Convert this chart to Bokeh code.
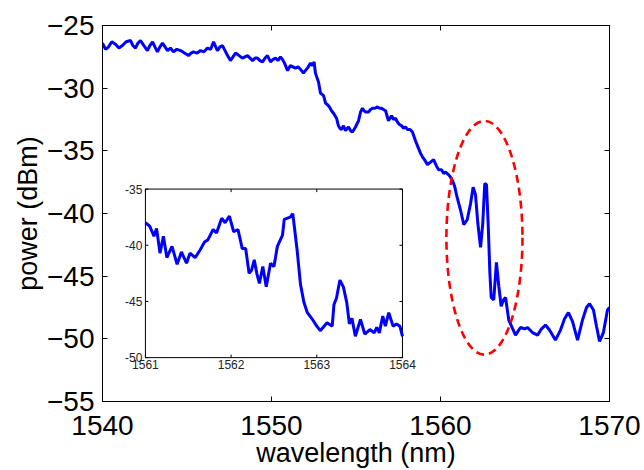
import numpy as np
from bokeh.plotting import figure
from bokeh.models import Range1d, LinearAxis, FixedTicker
from bokeh.core.properties import value
from bokeh.embed import file_html
from bokeh.resources import INLINE

# ---- data: measured spectrum (main trace) ----
# 1540 - 1561 nm
wl_a = [1540.00, 1540.18, 1540.36, 1540.55, 1540.77, 1540.97, 1541.18, 1541.40, 1541.66, 1541.80,
        1541.95, 1542.10, 1542.25, 1542.45, 1542.66, 1542.80, 1542.96, 1543.10, 1543.25, 1543.40,
        1543.55, 1543.70, 1543.85, 1544.02, 1544.20, 1544.40, 1544.62, 1544.85, 1545.09, 1545.24,
        1545.38, 1545.60, 1545.80, 1546.00, 1546.21, 1546.40, 1546.57, 1546.70, 1546.80, 1546.95,
        1547.10, 1547.25, 1547.40, 1547.57, 1547.72, 1547.87, 1548.08, 1548.28, 1548.43, 1548.58,
        1548.73, 1548.88, 1549.03, 1549.17, 1549.32, 1549.47, 1549.62, 1549.76, 1549.94, 1550.10,
        1550.24, 1550.38, 1550.53, 1550.65, 1550.77, 1550.95, 1551.12, 1551.27, 1551.42, 1551.57,
        1551.72, 1551.89, 1552.00, 1552.13, 1552.31, 1552.43, 1552.52, 1552.60, 1552.78, 1552.90,
        1553.08, 1553.20, 1553.30, 1553.43, 1553.55, 1553.67, 1553.85, 1553.96, 1554.05, 1554.14,
        1554.26, 1554.38, 1554.48, 1554.56, 1554.68, 1554.79, 1554.97, 1555.15, 1555.27, 1555.38,
        1555.48, 1555.56, 1555.74, 1555.86, 1555.98, 1556.12, 1556.27, 1556.40, 1556.51, 1556.62,
        1556.75, 1556.92, 1557.10, 1557.22, 1557.34, 1557.45, 1557.57, 1557.70, 1557.81, 1557.93,
        1558.05, 1558.20, 1558.34, 1558.52, 1558.70, 1558.82, 1558.94, 1559.05, 1559.23, 1559.41,
        1559.59, 1559.76, 1559.88, 1560.06, 1560.18, 1560.30, 1560.47, 1560.59, 1560.72, 1560.83]
pw_a = [-26.4, -26.9, -26.7, -26.3, -26.5, -26.8, -26.6, -26.3, -26.2, -26.6,
        -26.8, -26.4, -26.2, -26.6, -27.0, -26.6, -26.3, -26.7, -27.1, -26.7,
        -26.4, -26.7, -27.0, -26.8, -27.1, -26.9, -27.0, -27.2, -27.4, -27.2,
        -27.1, -27.2, -27.0, -27.1, -26.8, -26.9, -26.3, -26.7, -27.0, -26.7,
        -26.6, -27.0, -27.4, -27.8, -27.5, -27.2, -27.4, -27.6, -27.5, -27.4,
        -27.6, -27.8, -27.6, -27.6, -27.8, -27.9, -27.6, -27.4, -27.9, -27.7,
        -27.6, -27.8, -27.5, -27.7, -28.0, -28.6, -28.2, -28.3, -28.4, -28.3,
        -28.5, -28.8, -28.6, -28.4, -28.0, -28.2, -27.9, -28.8, -29.5, -30.4,
        -30.6, -31.2, -31.3, -31.5, -31.8, -32.0, -32.4, -33.0, -33.2, -33.3,
        -33.0, -33.4, -33.2, -33.1, -33.4, -33.5, -33.1, -32.6, -31.9, -31.6,
        -31.8, -31.9, -31.9, -31.7, -31.6, -31.6, -31.5, -31.6, -31.6, -31.7,
        -31.8, -32.6, -32.2, -32.5, -32.4, -32.7, -32.9, -33.0, -33.2, -33.1,
        -33.3, -33.3, -33.5, -34.2, -34.8, -35.2, -35.5, -35.7, -36.1, -35.9,
        -35.7, -36.2, -36.5, -36.5, -36.8, -36.7, -36.9, -37.1, -37.4, -37.8]

# 1561 - 1564 nm as seen on the main trace (inside the ellipse)
wl_m = [1560.98, 1561.18, 1561.38, 1561.58, 1561.78, 1561.93, 1562.07, 1562.21, 1562.37, 1562.50,
        1562.62, 1562.72, 1562.82, 1562.92, 1563.00, 1563.15, 1563.31, 1563.45, 1563.59, 1563.72,
        1563.85, 1564.04]
pw_m = [-38.7, -39.7, -40.9, -40.5, -39.2, -37.9, -38.5, -40.8, -42.7, -40.8,
        -37.6, -37.7, -40.8, -44.7, -46.7, -46.9, -43.9, -45.8, -47.4, -46.9,
        -46.7, -48.5]

# 1564 - 1570 nm
wl_c = [1564.24, 1564.44, 1564.73, 1564.97, 1565.15, 1565.44, 1565.74, 1565.98, 1566.21, 1566.45,
        1566.80, 1567.10, 1567.34, 1567.57, 1567.81, 1568.11, 1568.40, 1568.64, 1568.82, 1569.05,
        1569.23, 1569.41, 1569.64, 1569.88, 1570.00]
pw_c = [-49.1, -49.7, -49.1, -49.2, -49.1, -49.5, -49.7, -49.2, -48.9, -49.3,
        -50.1, -49.3, -48.4, -47.9, -48.6, -50.1, -48.5, -47.5, -47.2, -47.7,
        -49.0, -50.2, -49.5, -47.7, -47.5]

# ---- inset: zoom of 1561 - 1564 nm ----
wl_b = [1561.00, 1561.05, 1561.10, 1561.13, 1561.17, 1561.21, 1561.25, 1561.31, 1561.37, 1561.42,
        1561.48, 1561.52, 1561.58, 1561.64, 1561.69, 1561.73, 1561.79, 1561.83, 1561.89, 1561.93,
        1561.98, 1562.03, 1562.08, 1562.13, 1562.17, 1562.21, 1562.24, 1562.27, 1562.30, 1562.33,
        1562.37, 1562.41, 1562.46, 1562.50, 1562.54, 1562.60, 1562.62, 1562.69, 1562.72, 1562.77,
        1562.81, 1562.85, 1562.89, 1562.94, 1563.00, 1563.04, 1563.12, 1563.18, 1563.20, 1563.23,
        1563.27, 1563.31, 1563.35, 1563.38, 1563.41, 1563.45, 1563.51, 1563.56, 1563.62, 1563.67,
        1563.70, 1563.73, 1563.77, 1563.80, 1563.84, 1563.89, 1563.93, 1563.97, 1564.00]
pw_b = [-38.0, -38.3, -39.2, -38.5, -40.7, -39.2, -41.1, -40.1, -41.7, -40.6,
        -41.6, -40.7, -41.1, -40.4, -39.7, -39.5, -38.6, -38.9, -37.6, -38.0,
        -37.4, -38.8, -38.6, -40.3, -40.3, -42.5, -42.2, -41.3, -42.5, -43.4,
        -41.9, -43.7, -41.6, -41.9, -40.1, -39.1, -37.7, -37.5, -37.2, -40.4,
        -43.5, -45.1, -46.0, -46.5, -47.2, -47.6, -46.9, -47.2, -45.3, -44.7,
        -43.1, -43.7, -45.1, -47.0, -46.5, -48.1, -46.6, -47.9, -47.5, -47.8,
        -47.3, -47.8, -46.3, -47.2, -46.0, -47.2, -47.0, -47.2, -48.1]

main_xticks = [1540, 1550, 1560, 1570]
main_yticks = [-55, -50, -45, -40, -35, -30, -25]
inset_xticks = [1561, 1562, 1563, 1564]
inset_yticks = [-50, -45, -40, -35]

# highlighted region (ellipse) in data units
ell_x, ell_y, ell_w, ell_h = 1562.60, -41.94, 4.50, 18.64

FONT = "Liberation Sans"

p = figure(width=644, height=470, output_backend="svg", toolbar_location=None,
           x_range=Range1d(1540, 1570), y_range=Range1d(-55, -25),
           min_border_left=102, min_border_right=35, min_border_top=25, min_border_bottom=68,
           background_fill_color="white", border_fill_color="white")
p.xgrid.visible = False
p.ygrid.visible = False
p.outline_line_color = "black"
p.outline_line_width = 1

for ax, ticks in ((p.xaxis[0], main_xticks), (p.yaxis[0], main_yticks)):
    ax.ticker = FixedTicker(ticks=ticks)
    ax.major_tick_in = 5
    ax.major_tick_out = 0
    ax.minor_tick_in = 0
    ax.minor_tick_out = 0
    ax.axis_line_color = "black"
    ax.major_tick_line_color = "black"
    ax.major_label_text_font = FONT
    ax.major_label_text_font_size = "28px"
    ax.major_label_text_color = "black"
    ax.axis_label_text_font = FONT
    ax.axis_label_text_font_size = "27px"
    ax.axis_label_text_font_style = "normal"
    ax.axis_label_text_color = "black"

p.xaxis[0].major_label_standoff = 14
p.xaxis[0].axis_label = "wavelength (nm)"
p.xaxis[0].axis_label_standoff = 0
p.xaxis[0].axis_label_text_line_height = 0.6
p.yaxis[0].major_label_standoff = 8
p.yaxis[0].axis_label = "power (dBm)"
p.yaxis[0].axis_label_standoff = 1

for loc, ticks in (("right", main_yticks), ("above", main_xticks)):
    ax = LinearAxis(ticker=FixedTicker(ticks=ticks), major_tick_in=5, major_tick_out=0,
                    minor_tick_in=0, minor_tick_out=0, axis_line_color="black",
                    major_tick_line_color="black", major_label_text_color=None)
    p.add_layout(ax, loc)

wl_all = wl_a + wl_m + wl_c
pw_all = pw_a + pw_m + pw_c
p.line(wl_all, pw_all, line_color="#0000ff", line_width=3)

p.ellipse(x=[ell_x], y=[ell_y], width=[ell_w], height=[ell_h], fill_color=None,
          line_color="#ff0000", line_width=2.6, line_dash="8 5")

# ---- inset ----
ix = Range1d(1561, 1564)
iy = Range1d(-50, -35)
inset = p.subplot(x_source=ix, y_source=iy,
                  x_target=Range1d(1542.54, 1557.75), y_target=Range1d(-51.50, -38.05))
inset.quad(left=[ix.start], right=[ix.end], bottom=[iy.start], top=[iy.end],
           fill_color="white", line_color="black", line_width=1)
tx = 0.035
ty = 0.27
inset.segment(x0=inset_xticks, y0=[iy.start] * 4, x1=inset_xticks, y1=[iy.start + ty] * 4,
              line_color="black", line_width=1)
inset.segment(x0=inset_xticks, y0=[iy.end] * 4, x1=inset_xticks, y1=[iy.end - ty] * 4,
              line_color="black", line_width=1)
inset.segment(x0=[ix.start] * 4, y0=inset_yticks, x1=[ix.start + tx] * 4, y1=inset_yticks,
              line_color="black", line_width=1)
inset.segment(x0=[ix.end] * 4, y0=inset_yticks, x1=[ix.end - tx] * 4, y1=inset_yticks,
              line_color="black", line_width=1)
inset.line(wl_b, pw_b, line_color="#0000ff", line_width=3)
inset.text(x=inset_xticks, y=[iy.start] * 4, text=[str(t) for t in inset_xticks],
           text_align="center", text_baseline="top", y_offset=2,
           text_font=value(FONT), text_font_size="12px", text_color="#222222")
inset.text(x=[ix.start] * 4, y=inset_yticks, text=[str(t) for t in inset_yticks],
           text_align="right", text_baseline="middle", x_offset=-3,
           text_font=value(FONT), text_font_size="12px", text_color="#222222")

open("out.html", "w").write(file_html(p, INLINE))
